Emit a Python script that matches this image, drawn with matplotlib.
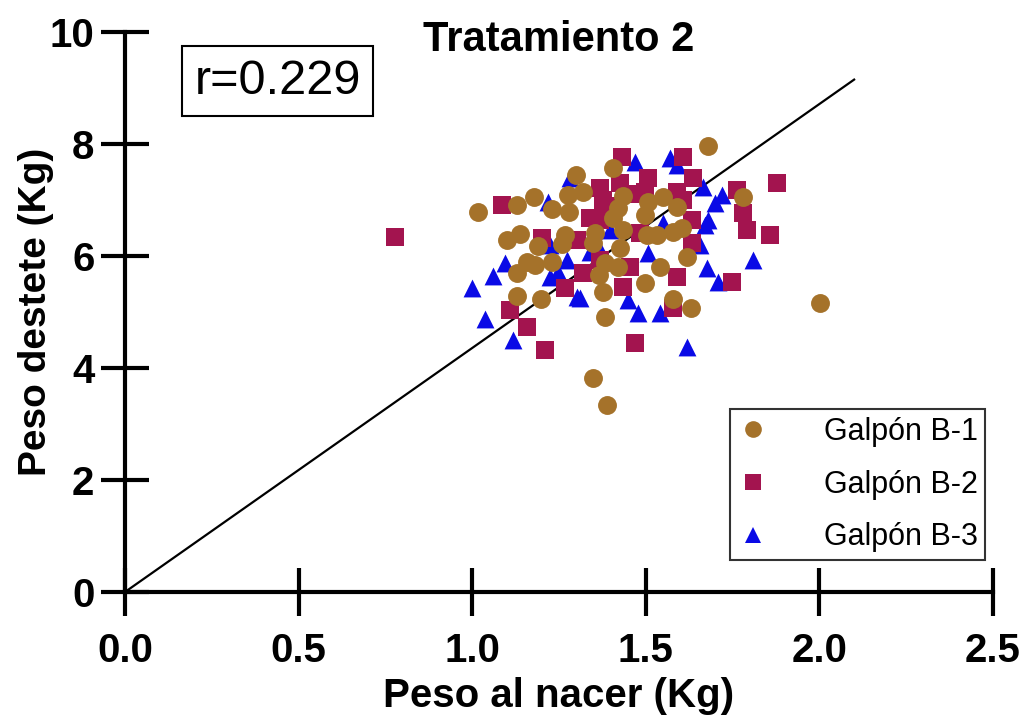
import matplotlib
matplotlib.use("Agg")
import matplotlib.pyplot as plt
from matplotlib.lines import Line2D

plt.rcParams['font.family'] = ['Liberation Sans', 'DejaVu Sans']

# ---- data ----
b1_x = [1.017, 1.129, 1.178, 1.23, 1.276, 1.299, 1.319, 1.279, 1.100, 1.138,
        1.19, 1.267, 1.259, 1.354, 1.348, 1.129, 1.158, 1.181, 1.23, 1.382,
        1.365, 1.377, 1.129, 1.198, 1.382, 1.348, 1.388, 1.405, 1.679, 1.434,
        1.506, 1.55, 1.59, 1.42, 1.406, 1.498, 1.434, 1.503, 1.532, 1.578,
        1.604, 1.426, 1.42, 1.541, 1.619, 1.78, 1.498, 1.578, 1.63, 2.002]
b1_y = [6.79, 6.91, 7.05, 6.84, 7.09, 7.45, 7.14, 6.79, 6.29, 6.39,
        6.18, 6.375, 6.21, 6.41, 6.23, 5.70, 5.89, 5.84, 5.89, 5.875,
        5.66, 5.36, 5.29, 5.23, 4.91, 3.82, 3.34, 7.57, 7.96, 7.07,
        6.96, 7.05, 6.875, 6.86, 6.68, 6.73, 6.46, 6.375, 6.375, 6.43,
        6.5, 6.14, 5.80, 5.80, 5.98, 7.05, 5.52, 5.23, 5.07, 5.16]

b2_x = [0.778, 1.086, 1.201, 1.368, 1.339, 1.302, 1.319, 1.267, 1.109, 1.158,
        1.21, 1.368, 1.431, 1.607, 1.426, 1.506, 1.636, 1.59, 1.498, 1.878,
        1.763, 1.78, 1.791, 1.858, 1.377, 1.633, 1.633, 1.483, 1.454, 1.59,
        1.434, 1.578, 1.748, 1.469, 1.368, 1.46, 1.608, 1.39]
b2_y = [6.34, 6.91, 6.32, 7.21, 6.68, 6.29, 5.70, 5.43, 5.04, 4.73,
        4.32, 6.64, 7.77, 7.77, 7.30, 7.39, 7.39, 7.14, 7.14, 7.30,
        7.18, 6.77, 6.46, 6.375, 7.0, 6.23, 6.64, 6.41, 5.80, 5.63,
        5.45, 5.07, 5.54, 4.45, 5.93, 7.10, 7.0, 6.9]

b3_x = [0.999, 1.06, 1.094, 1.037, 1.118, 1.218, 1.282, 1.224, 1.273, 1.224,
        1.247, 1.302, 1.368, 1.339, 1.469, 1.57, 1.59, 1.665, 1.72, 1.70,
        1.68, 1.67, 1.656, 1.676, 1.708, 1.809, 1.506, 1.478, 1.541, 1.449,
        1.619, 1.397, 1.55, 1.31]
b3_y = [5.43, 5.64, 5.875, 4.875, 4.5, 6.96, 7.39, 6.20, 5.93, 5.63,
        5.71, 5.27, 6.11, 6.07, 7.68, 7.75, 7.63, 7.23, 7.09, 6.95,
        6.64, 6.55, 6.2, 5.79, 5.54, 5.93, 6.05, 4.98, 4.98, 5.21,
        4.375, 6.46, 6.59, 5.25]

line_x = [0.0, 2.1]
line_y = [0.0, 9.15]

labels = ['Galpón B-1', 'Galpón B-2', 'Galpón B-3']
colors = ['#A5722A', '#A3144F', '#0A0AE6']
x_ticks = [0.0, 0.5, 1.0, 1.5, 2.0, 2.5]
x_ticklabels = ['0.0', '0.5', '1.0', '1.5', '2.0', '2.5']
y_ticks = [0, 2, 4, 6, 8, 10]

# ---- figure ----
fig = plt.figure(figsize=(10.34, 7.18), dpi=100)
ax = fig.add_axes([125/1034, 1-592/718, 868/1034, 560/718])

ax.plot(line_x, line_y, color='black', lw=1.6, zorder=2)
ax.scatter(b3_x, b3_y, marker='^', s=165, color=colors[2], linewidths=0, zorder=3)
ax.scatter(b2_x, b2_y, marker='s', s=150, color=colors[1], linewidths=0, zorder=4)
ax.scatter(b1_x, b1_y, marker='o', s=185, color=colors[0], linewidths=0, zorder=5)

ax.set_xlim(0, 2.5)
ax.set_ylim(0, 10)
ax.set_xticks(x_ticks)
ax.set_xticklabels(x_ticklabels)
ax.set_yticks(y_ticks)

for s in ['top', 'right']:
    ax.spines[s].set_visible(False)
for s in ['left', 'bottom']:
    ax.spines[s].set_linewidth(3)
ax.tick_params(direction='inout', length=34, width=3, labelsize=29)
ax.tick_params(axis='x', pad=12)
ax.tick_params(axis='y', pad=5)
for lab in ax.get_xticklabels() + ax.get_yticklabels():
    lab.set_fontweight('bold')

ax.set_xlabel('Peso al nacer (Kg)', fontsize=29, fontweight='bold', labelpad=5)
ax.set_ylabel('Peso destete (Kg)', fontsize=28, fontweight='bold', labelpad=-3)
ax.text(0.5, 0.986, 'Tratamiento 2', transform=ax.transAxes, fontsize=30,
        fontweight='bold', ha='center', va='center')

ax.text(0.176, 0.9125, 'r=0.229', transform=ax.transAxes, fontsize=35,
        ha='center', va='center',
        bbox=dict(boxstyle='square,pad=0.25', fc='white', ec='black', lw=1.5))

handles = [
    Line2D([], [], ls='', marker='o', ms=12, color=colors[0], mew=0),
    Line2D([], [], ls='', marker='s', ms=11, color=colors[1], mew=0),
    Line2D([], [], ls='', marker='^', ms=12, color=colors[2], mew=0),
]
leg = ax.legend(handles, labels, loc='lower right', bbox_to_anchor=(0.991, 0.057),
                fontsize=22, frameon=True, fancybox=False, edgecolor='black',
                handlelength=1.0, handletextpad=1.8, labelspacing=0.75,
                borderpad=0.25, borderaxespad=0)
leg.get_frame().set_linewidth(1.5)

fig.savefig('out.png', dpi=100)
